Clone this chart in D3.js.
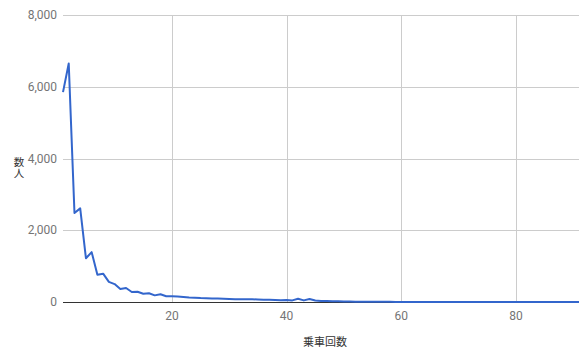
<!DOCTYPE html>
<html>
<head>
<meta charset="utf-8">
<script src="https://cdn.jsdelivr.net/npm/d3@7"></script>
<style>
  html, body { margin: 0; padding: 0; background: #fff; }
  svg { display: block; font-family: Roboto, Arial, sans-serif; }
</style>
</head>
<body>
<svg id="chart" width="579" height="348"></svg>
<script>
// Ride count (乗車回数) vs. number of people (人数)
const rideCounts = d3.range(1, 92);
const people = [
  5850, 6650, 2480, 2610, 1220, 1390, 760, 790, 560, 500,
  360, 390, 280, 285, 230, 245, 185, 215, 160, 160,
  150, 140, 125, 120, 110, 105, 100, 95, 90, 85,
  75, 80, 78, 75, 70, 65, 60, 55, 50, 55,
  45, 90, 45, 85, 40, 30, 25, 22, 18, 15,
  12, 10, 8, 6, 5, 5, 4, 4, 3, 3,
  3, 2, 2, 2, 2, 2, 1, 1, 1, 1,
  1, 1, 1, 1, 1, 1, 1, 1, 1, 1,
  1, 1, 1, 1, 1, 1, 1, 1, 1, 1,
  1
];
const xTicks = [20, 40, 60, 80];
const yTicks = [0, 2000, 4000, 6000, 8000];
const xTitle = "乗車回数";
const yTitle = "数人";

const svg = d3.select("#chart");
const plotLeft = 63, plotRight = 579, plotTop = 15, plotBottom = 302;

const x = d3.scaleLinear().domain([1, 91]).range([plotLeft, plotRight]);
const y = d3.scaleLinear().domain([0, 8000]).range([plotBottom, plotTop]);

// horizontal gridlines
svg.append("g")
  .selectAll("line")
  .data(yTicks.filter(d => d !== 0))
  .join("line")
  .attr("x1", plotLeft).attr("x2", plotRight)
  .attr("y1", d => Math.round(y(d)) + 0.5).attr("y2", d => Math.round(y(d)) + 0.5)
  .attr("stroke", "#cccccc").attr("stroke-width", 1);

// vertical gridlines
svg.append("g")
  .selectAll("line")
  .data(xTicks)
  .join("line")
  .attr("x1", d => Math.round(x(d)) + 0.5).attr("x2", d => Math.round(x(d)) + 0.5)
  .attr("y1", plotTop).attr("y2", plotBottom)
  .attr("stroke", "#cccccc").attr("stroke-width", 1);

// y tick labels
svg.append("g")
  .selectAll("text")
  .data(yTicks)
  .join("text")
  .attr("x", plotLeft - 6)
  .attr("y", d => y(d))
  .attr("dy", "0.35em")
  .attr("text-anchor", "end")
  .attr("font-size", 12)
  .attr("fill", "#757575")
  .text(d => d3.format(",")(d));

// x tick labels
svg.append("g")
  .selectAll("text")
  .data(xTicks)
  .join("text")
  .attr("x", d => x(d))
  .attr("y", 320)
  .attr("text-anchor", "middle")
  .attr("font-size", 12)
  .attr("fill", "#757575")
  .text(d => d);

// baseline
svg.append("line")
  .attr("x1", plotLeft).attr("x2", plotRight)
  .attr("y1", Math.round(y(0)) + 0.5).attr("y2", Math.round(y(0)) + 0.5)
  .attr("stroke", "#333333").attr("stroke-width", 1);

// data line
const line = d3.line()
  .x((d, i) => x(rideCounts[i]))
  .y(d => y(d));
svg.append("path")
  .datum(people)
  .attr("d", line)
  .attr("fill", "none")
  .attr("stroke", "#3366cc")
  .attr("stroke-width", 2)
  .attr("stroke-linejoin", "round");

// axis titles
svg.append("text")
  .attr("x", (plotLeft + plotRight) / 2 + 4)
  .attr("y", 346)
  .attr("text-anchor", "middle")
  .attr("font-size", 11)
  .attr("fill", "#333")
  .attr("font-family", "'Noto Sans CJK JP', sans-serif")
  .text(xTitle);

// vertical y-axis title, characters stacked upright
svg.append("text")
  .attr("x", 19)
  .attr("y", 157)
  .attr("font-size", 10.5)
  .attr("fill", "#333")
  .attr("font-family", "'Noto Sans CJK JP', sans-serif")
  .style("writing-mode", "vertical-rl")
  .style("text-orientation", "upright")
  .text(yTitle);
</script>
</body>
</html>
